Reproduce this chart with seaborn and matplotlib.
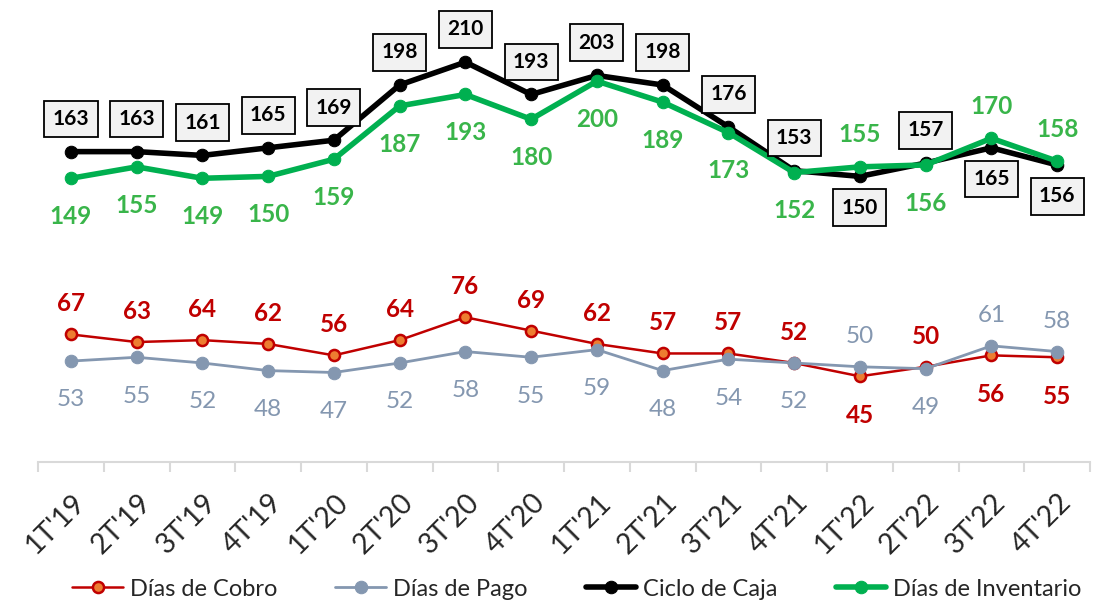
import matplotlib
matplotlib.use('Agg')
import matplotlib.pyplot as plt
import matplotlib.transforms as mtransforms
import numpy as np
import pandas as pd
import seaborn as sns

# quarters and series
quarters = ["1T'19", "2T'19", "3T'19", "4T'19", "1T'20", "2T'20", "3T'20", "4T'20",
            "1T'21", "2T'21", "3T'21", "4T'21", "1T'22", "2T'22", "3T'22", "4T'22"]
dias_cobro = [67, 63, 64, 62, 56, 64, 76, 69, 62, 57, 57, 52, 45, 50, 56, 55]
dias_pago = [53, 55, 52, 48, 47, 52, 58, 55, 59, 48, 54, 52, 50, 49, 61, 58]
ciclo_caja = [163, 163, 161, 165, 169, 198, 210, 193, 203, 198, 176, 153, 150, 157, 165, 156]
dias_inventario = [149, 155, 149, 150, 159, 187, 193, 180, 200, 189, 173, 152, 155, 156, 170, 158]

# where each data label sits: a = above the point, b = below
pos_cobro = ['a'] * 12 + ['b', 'a', 'b', 'b']
pos_pago = ['b'] * 12 + ['a', 'b', 'a', 'a']
pos_caja = ['a'] * 12 + ['b', 'a', 'b', 'b']
pos_inv = ['b'] * 12 + ['a', 'b', 'a', 'a']

sns.set_style('white')
plt.rcParams['font.family'] = ['Lato', 'DejaVu Sans']

df = pd.DataFrame({'Trimestre': quarters, 'cobro': dias_cobro, 'pago': dias_pago,
                   'caja': ciclo_caja, 'inv': dias_inventario})

fig = plt.figure(figsize=(10.94, 6.03), dpi=100)
ax = fig.add_axes([38 / 1094, 141 / 603, 1052 / 1094, 457 / 603])

red = '#C00000'
orange = '#ED7D31'
grey = '#8497B0'
green = '#00B050'
green_txt = '#39B54A'

sns.lineplot(data=df, x='Trimestre', y='cobro', ax=ax, color=red, lw=1.8, marker='o',
             markersize=8, markerfacecolor=orange, markeredgecolor=red, markeredgewidth=1.8,
             label='Días de Cobro', zorder=3)
sns.lineplot(data=df, x='Trimestre', y='pago', ax=ax, color=grey, lw=2.0, marker='o',
             markersize=9, markerfacecolor=grey, markeredgecolor=grey,
             label='Días de Pago', zorder=4)
sns.lineplot(data=df, x='Trimestre', y='caja', ax=ax, color='black', lw=4, marker='o',
             markersize=9, markerfacecolor='black', markeredgecolor='black',
             label='Ciclo de Caja', zorder=5)
sns.lineplot(data=df, x='Trimestre', y='inv', ax=ax, color=green, lw=4, marker='o',
             markersize=9, markerfacecolor=green, markeredgecolor=green,
             label='Días de Inventario', zorder=6)


def labels(vals, pos, color, up, down, weight='bold', size=17.5, box=False):
    for i, (v, p) in enumerate(zip(vals, pos)):
        dy = up if p == 'a' else -down
        kw = {}
        if box:
            kw['bbox'] = dict(boxstyle='square,pad=0.4', fc='#F2F2F2', ec='black', lw=1.3)
        ax.annotate(str(v), (i, v), xytext=(0, dy), textcoords='offset points',
                    ha='center', va='center', color=color, fontsize=size,
                    fontweight=weight, zorder=10, **kw)


labels(dias_cobro, pos_cobro, red, 22, 28)
labels(dias_pago, pos_pago, grey, 22, 28, weight='normal')
labels(ciclo_caja, pos_caja, 'black', 23.5, 22.5, size=15, box=True)
labels(dias_inventario, pos_inv, green_txt, 23, 27.5)

ax.set_ylim(0, 240)
ax.set_xlim(-0.5, len(quarters) - 0.5)
ax.set_yticks([])
ax.set_xlabel('')
ax.set_ylabel('')
for s in ['left', 'top', 'right']:
    ax.spines[s].set_visible(False)
ax.spines['bottom'].set_color('#D9D9D9')
ax.spines['bottom'].set_linewidth(1.5)

ax.set_xticks(np.arange(-0.5, len(quarters)), minor=True)
ax.tick_params(axis='x', which='minor', bottom=True, length=7, width=1.5,
               color='#D9D9D9', direction='out')
ax.tick_params(axis='x', which='major', bottom=True, length=0, labelsize=20.5, pad=26)
shift = mtransforms.ScaledTranslation(10 / 100, 0, fig.dpi_scale_trans)
for lab in ax.get_xticklabels():
    lab.set_rotation(45)
    lab.set_ha('right')
    lab.set_va('center')
    lab.set_rotation_mode('anchor')
    lab.set_transform(lab.get_transform() + shift)

handles, names = ax.get_legend_handles_labels()
ax.get_legend().remove()
fig.legend(handles, names, loc='center', bbox_to_anchor=(0.5275, 14 / 603), ncol=4,
           frameon=False, fontsize=17, handlelength=2.15, handletextpad=0.3,
           columnspacing=2.45)

fig.savefig('out.png', dpi=100, facecolor='white')
